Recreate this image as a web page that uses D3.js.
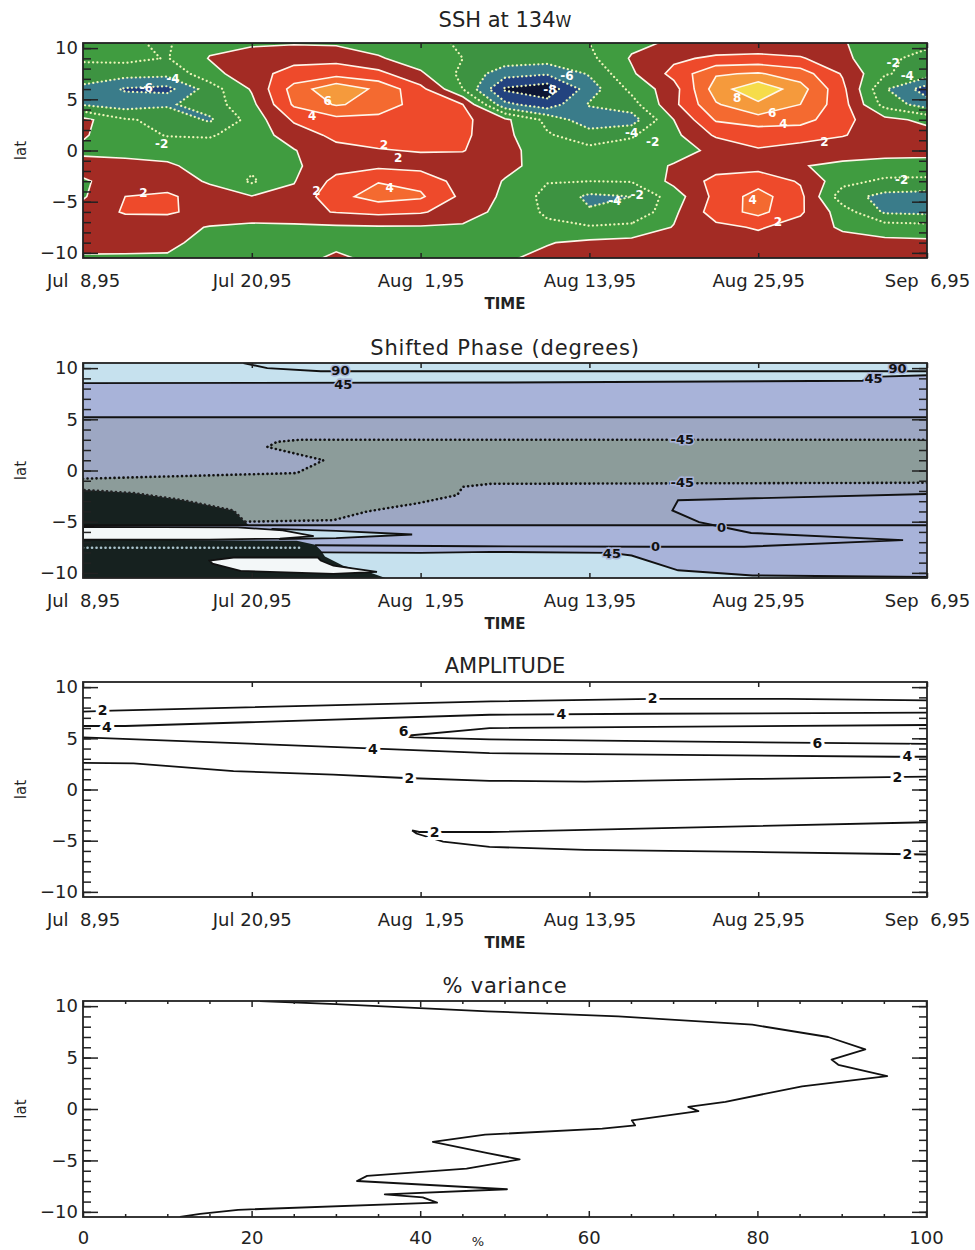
<!DOCTYPE html>
<html>
<head>
<meta charset="utf-8">
<script src="https://cdn.jsdelivr.net/npm/d3@7"></script>
<style>
body{margin:0;background:#fff}
svg text{font-family:"DejaVu Sans",sans-serif;fill:#222}
</style>
</head>
<body>
<svg id="chart" width="975" height="1250"></svg>
<script>
// ---- axis data
const timeTicks=[0,12,24,36,48,60];
const timeLabels=["Jul  8,95","Jul 20,95","Aug  1,95","Aug 13,95","Aug 25,95","Sep  6,95"];
const latTicks=[-10,-5,0,5,10];
const latMinor=[-10,-9,-8,-7,-6,-5,-4,-3,-2,-1,0,1,2,3,4,5,6,7,8,9,10];
const pctTicks=[0,20,40,60,80,100];
const pctMinor=[5,10,15,25,30,35,45,50,55,65,70,75,85,90,95];

// ---- SSH at 134W : grid (rows = lat, cols = day)
const sshDays=[0,3,6,9,12,15,18,21,24,27,30,33,36,39,42,45,48,51,54,57,60];
const sshLats=[10.5,9,7.5,6,4.5,3,1.5,0,-1.5,-3,-4.5,-6,-7.5,-9,-10.5];
const sshLevels=[-8,-6,-4,-2,0,2,4,6,8];
const sshColors=["#0d1634","#23437f","#3a7c8a","#3d9341","#409c40","#a32b24","#ee4a2b","#f46a30","#f59a3c","#f6dc4a"];
const sshGrid=[
[-1.5,-1.8,-2.2,-0.5,-0.3,-0.2,-0.3,-0.8,-1.5,-2.2,-2.5,-2.5,-2.0,-0.5,0.3,0.5,0.6,0.5,0.2,-1.5,-1.8],
[-1.8,-1.5,-2.1,0.1,0.9,1.5,1.4,0.2,-1.0,-2.0,-2.8,-3.0,-2.5,0.2,1.6,2.4,2.6,2.2,0.6,-1.8,-2.3],
[-2.6,-3.2,-3.4,-0.8,1.4,2.6,3.2,2.6,0.3,-2.5,-5.2,-5.8,-3.8,-0.3,2.6,5.8,6.2,5.0,1.8,-1.8,-3.0],
[-4.6,-6.2,-6.6,-3.0,0.2,4.8,7.6,5.5,2.6,-2.0,-8.3,-9.2,-5.0,-1.5,1.2,7.0,9.6,6.8,2.5,-3.8,-7.0],
[-4.2,-5.0,-4.3,-3.0,-0.5,4.3,6.2,5.3,3.0,2.0,-5.5,-7.2,-3.8,-2.8,1.5,5.8,7.6,6.0,2.8,-2.8,-5.0],
[0.6,-1.8,-2.5,-4.3,-1.2,2.3,3.4,3.3,2.8,2.5,0.4,-2.5,-5.4,-5.0,0.0,4.2,5.2,4.8,2.6,0.6,-0.5],
[0.2,-1.2,-2.1,-2.2,-1.0,0.9,2.5,2.7,2.5,2.4,0.5,-1.8,-3.0,-2.2,-0.5,2.3,2.5,2.5,2.1,1.2,0.8],
[-0.4,-0.5,-0.8,-1.0,-1.0,-0.1,1.4,1.9,2.1,2.1,0.5,-0.8,-1.5,-1.2,-0.5,0.3,1.9,1.5,0.9,0.6,0.5],
[0.7,0.5,0.3,-0.8,-1.6,-0.3,1.2,1.6,1.3,0.8,0.4,-0.6,-0.9,-0.6,0.1,1.2,1.3,0.1,-0.4,-0.6,-0.6],
[-0.2,0.8,0.9,-0.2,-2.3,-0.1,2.6,3.9,3.4,1.1,-0.1,-1.9,-2.0,-1.9,0.5,2.6,3.2,1.8,-1.3,-2.4,-2.5],
[-0.2,2.0,2.4,0.8,0.1,0.5,3.4,4.8,4.3,1.5,-0.4,-2.6,-4.4,-4.0,-1.0,2.6,4.8,2.5,-3.2,-4.6,-4.8],
[0.8,2.2,2.3,1.2,1.3,1.4,2.1,2.5,2.2,1.0,-0.7,-2.3,-3.8,-3.8,-0.4,3.0,4.6,2.3,-1.0,-4.3,-4.5],
[0.5,0.8,0.6,-0.1,-0.5,-0.4,-0.3,-0.2,-0.2,-0.3,-0.8,-1.6,-1.8,-1.4,0.1,1.5,2.2,1.2,-0.3,-1.0,-1.2],
[0.9,0.8,0.4,-0.6,-0.8,-0.7,-0.3,-0.5,-0.6,-0.4,-0.3,-0.1,0.4,0.6,0.8,1.0,1.2,1.0,0.8,0.5,0.4],
[-0.3,-0.3,-0.2,-0.4,-0.6,-0.4,0.2,-0.3,-0.5,-0.4,-0.2,0.4,0.7,0.8,0.9,1.0,1.0,0.9,0.1,0.5,0.5]
];
const sshLabels=[[4.5,6.1,"-6"],[6.4,7.0,"-4"],[5.6,0.7,"-2"],[4.3,-4.1,"2"],[17.4,4.9,"6"],[16.3,3.4,"4"],
  [21.4,0.6,"2"],[22.4,-0.75,"2"],[16.6,-3.9,"2"],[21.8,-3.6,"4"],[34.4,7.3,"-6"],[33.2,5.9,"-8"],
  [39,1.7,"-4"],[40.5,0.85,"-2"],[37.8,-4.95,"-4"],[39.4,-4.3,"-2"],[46.5,5.1,"8"],[49,3.7,"6"],
  [49.8,2.6,"4"],[52.7,0.85,"2"],[47.6,-4.8,"4"],[49.4,-7,"2"],[57.6,8.6,"-2"],[58.6,7.3,"-4"],[58.2,-2.9,"-2"]];

// ---- Shifted phase : regions and contour lines (day, lat)
const phTopCyan=[[0,10.5],[0,8.53],[30,8.6],[55.4,8.77],[56.7,9.17],[60,9.3],[60,10.5]];
const phMidBand=[[0,5.2],[60,5.2],[60,-5.35],[0,-5.35]];
const phUpperDots=[[0,-0.8],[15.2,-0.25],[17.1,1.0],[13.1,2.3],[13.8,2.8],[15.4,3.0],[60,3.0]];
const phLowerDots=[[60,-1.2],[29,-1.3],[27,-1.6],[26.6,-2.4],[23.8,-3.2],[20.2,-4.0],[17.8,-4.85],[11.5,-5.0]];
const phBlackEdge=[[11.5,-5.0],[10.7,-3.9],[7.1,-2.9],[3.6,-2.2],[0,-1.9]];
const phBlackTop=[[0,-1.9],[3.6,-2.2],[7.1,-2.9],[10.7,-3.9],[11.5,-5.0],[11.8,-5.35],[0,-5.35]];
const phWedge=[[60,-2.3],[42.3,-2.9],[41.9,-3.9],[43.8,-5.05],[45,-5.35],[60,-5.35]];
const phZeroLine=[[60,-2.3],[42.3,-2.9],[41.9,-3.9],[43.8,-5.05],[45.2,-5.45],[47.5,-6.1],[58.3,-6.8],[47,-7.45],[40.7,-7.45],[28,-7.4],[16.5,-7.3]];
const phCyanWedge=[[13.5,-5.7],[18,-5.9],[23.4,-6.25],[18,-6.6],[14,-6.7]];
const phWhite=[[0,-5.5],[11,-5.55],[14.2,-5.85],[16.4,-6.4],[14,-6.65],[9,-6.75],[0,-6.75]];
const phBottomCyan=[[16.9,-8.0],[24,-8.05],[29,-7.95],[37.5,-8.05],[39,-8.3],[42.3,-9.75],[47.6,-10.25],[60,-10.4],[60,-10.5],[16.9,-10.5]];
const phBottom45=[[16.9,-8.0],[24,-8.05],[29,-7.95],[37.5,-8.05],[39,-8.3],[42.3,-9.75],[47.6,-10.25],[60,-10.4]];
const phBlackLow=[[0,-6.75],[15.2,-6.85],[16.5,-7.25],[16.9,-7.8],[17.2,-8.4],[18.5,-9.3],[20.5,-10.0],[21.5,-10.5],[0,-10.5]];
const phWhiteLow=[[9.0,-8.8],[10.7,-8.5],[16.7,-8.5],[16.9,-8.8],[17.8,-9.3],[20.9,-9.9],[17.8,-10.1],[11.2,-9.8],[9.2,-9.1]];
const phLightDots=[[0,-7.55],[15.5,-7.55]];
const ph90=[[11.4,10.5],[13.1,10.0],[16.9,9.7],[57,9.7],[60,9.7]];
const ph45=[[0,8.53],[30,8.6],[55.4,8.77],[56.7,9.17],[60,9.3]];
const ph5=[[0,5.2],[60,5.2]];
const phM5=[[0,-5.35],[60,-5.35]];
const phLabels=[[18.3,9.75,"90"],[18.5,8.4,"45"],[56.2,8.95,"45"],[57.9,10.0,"90"],[42.6,3.0,"-45"],
  [42.6,-1.2,"-45"],[45.4,-5.55,"0"],[40.7,-7.45,"0"],[37.6,-8.1,"45"]];

// ---- Amplitude contour lines (day, lat)
const amp2North=[[0,7.6],[2.1,7.7],[29,8.6],[40.5,8.85],[50,8.85],[60,8.7]];
const amp4North=[[0,6.2],[3.0,6.2],[28.9,7.3],[39.8,7.4],[60,7.5]];
const amp6=[[60,6.3],[28.9,6.0],[22.6,5.2],[23.5,5.1],[28.9,4.9],[52.2,4.55],[60,4.45]];
const amp4South=[[0,5.1],[19.9,4.05],[28.9,3.55],[57.7,3.2],[60,3.2]];
const amp2Mid=[[0,2.6],[3.6,2.55],[10.7,1.8],[17.8,1.45],[22.5,1.15],[28.9,0.85],[35.7,0.77],[47.6,1.03],[57.2,1.2],[60,1.25]];
const amp2South=[[60,-3.2],[40.4,-3.8],[28.9,-4.15],[23.9,-4.15],[23.4,-4.0],[23.7,-4.3],[25.6,-5.1],[28.9,-5.6],[35.7,-5.9],[47.6,-6.1],[57.7,-6.3],[60,-6.35]];
const ampLabels=[[1.4,7.75,"2"],[40.5,8.9,"2"],[1.7,6.1,"4"],[34,7.4,"4"],[22.8,5.7,"6"],[52.2,4.55,"6"],
  [20.6,4.0,"4"],[58.6,3.25,"4"],[23.2,1.1,"2"],[57.9,1.2,"2"],[25,-4.15,"2"],[58.6,-6.3,"2"]];

// ---- % variance profile
const varLat=[10.5,10.2,9.5,9.0,8.2,7.0,5.8,4.8,4.3,3.2,2.2,0.7,0.2,-0.2,-1.1,-1.6,-1.9,-2.5,-3.2,-4.3,-4.9,-5.8,-6.5,-7.0,-7.8,-8.3,-8.6,-9.1,-9.8,-10.2,-10.5];
const varPct=[21,30,48,63.5,79.4,88.4,92.8,88.8,89.6,95.4,85.3,76.2,71.8,73,65.1,65.5,61.6,47.7,41.5,48,51.8,45.5,33.7,32.5,50.3,35.8,40.3,42,18.4,13.9,11.5];

// ---------------------------------------------------------------
const svg=d3.select("#chart");
const L=83,R=927;
const panels=[{t:43,b:258},{t:363,b:578},{t:682,b:897},{t:1001,b:1217}];
const x=d3.scaleLinear().domain([0,60]).range([L,R]);
const xp=d3.scaleLinear().domain([0,100]).range([L,R-1]);
const ys=panels.map(p=>d3.scaleLinear().domain([-10.5,10.5]).range([p.b,p.t]));
const fmtLat=d=>d<0?"\u2212"+(-d):String(d);
const TF=18;

function clip(i){
  const p=panels[i];
  svg.append("clipPath").attr("id","clip"+i).append("rect")
    .attr("x",L).attr("y",p.t).attr("width",R-L).attr("height",p.b-p.t);
  return svg.append("g").attr("clip-path",`url(#clip${i})`);
}

function styleAxis(sel,fs){
  sel.selectAll(".domain").remove();
  sel.selectAll(".tick line").attr("stroke","#222").attr("stroke-width",1.5);
  sel.selectAll("text").attr("font-size",fs).attr("font-family","DejaVu Sans, sans-serif").attr("fill","#222");
}

function latAxes(i){
  const y=ys[i];
  svg.append("g").attr("transform",`translate(${L},0)`)
    .call(d3.axisLeft(y).tickValues(latMinor).tickSize(-8).tickFormat("")).call(styleAxis,TF);
  svg.append("g").attr("transform",`translate(${L},0)`)
    .call(d3.axisLeft(y).tickValues(latTicks).tickSize(-15).tickPadding(5).tickFormat(fmtLat)).call(styleAxis,TF);
  svg.append("g").attr("transform",`translate(${R},0)`)
    .call(d3.axisRight(y).tickValues(latMinor).tickSize(-8).tickFormat("")).call(styleAxis,TF);
  svg.append("g").attr("transform",`translate(${R},0)`)
    .call(d3.axisRight(y).tickValues(latTicks).tickSize(-15).tickFormat("")).call(styleAxis,TF);
  const p=panels[i];
  svg.append("text").attr("transform",`translate(26,${(p.t+p.b)/2}) rotate(-90)`)
    .attr("text-anchor","middle").attr("font-size",15).text("lat");
}

function timeAxes(i){
  const p=panels[i];
  const gb=svg.append("g").attr("transform",`translate(0,${p.b})`)
    .call(d3.axisBottom(x).tickValues(timeTicks).tickSize(-5).tickFormat((d,k)=>timeLabels[k])).call(styleAxis,TF);
  gb.selectAll("text").attr("y",29).attr("dy",0).style("white-space","pre");
  svg.append("g").attr("transform",`translate(0,${p.t})`)
    .call(d3.axisTop(x).tickValues(timeTicks).tickSize(-5).tickFormat("")).call(styleAxis,TF);
  svg.append("text").attr("x",(L+R)/2).attr("y",p.b+51).attr("text-anchor","middle")
    .attr("font-size",15).attr("font-weight","bold").text("TIME");
}

function border(i){
  const p=panels[i];
  svg.append("rect").attr("x",L).attr("y",p.t).attr("width",R-L).attr("height",p.b-p.t)
    .attr("fill","none").attr("stroke","#222").attr("stroke-width",1.8);
}

function title(i,txt,dy){
  return svg.append("text").attr("x",(L+R)/2).attr("y",panels[i].t-dy)
    .attr("text-anchor","middle").attr("font-size",21).text(txt);
}

// ---------------- panel 1 : SSH filled contours
{
  const y=ys[0], g=clip(0);
  const n=sshDays.length, m=sshLats.length;
  const gx=d3.scaleLinear().domain([0.5,n-0.5]).range([sshDays[0],sshDays[n-1]]);
  const gy=d3.scaleLinear().domain([0.5,m-0.5]).range([sshLats[0],sshLats[m-1]]);
  const proj=d3.geoTransform({point(a,b){this.stream.point(x(gx(a)),y(gy(b)));}});
  const path=d3.geoPath(proj);
  const cs=d3.contours().size([n,m]).thresholds(sshLevels)(sshGrid.flat());
  g.append("rect").attr("x",L).attr("y",panels[0].t).attr("width",R-L).attr("height",panels[0].b-panels[0].t)
    .attr("fill",sshColors[0]);
  g.selectAll("path.fill").data(cs).join("path").attr("class","fill")
    .attr("d",path).attr("fill",(d,k)=>sshColors[k+1]);
  g.selectAll("path.line").data(cs).join("path").attr("class","line")
    .attr("d",path).attr("fill","none")
    .attr("stroke",d=>d.value<0?"#eef6b8":"#fff6ea")
    .attr("stroke-width",d=>d.value<0?2.2:1.6)
    .attr("stroke-linecap","round")
    .attr("stroke-dasharray",d=>d.value<0?"0.1,4.2":null);
  g.selectAll("text").data(sshLabels).join("text")
    .attr("x",d=>x(d[0])).attr("y",d=>y(d[1])).attr("dy","0.35em")
    .attr("text-anchor","middle").attr("font-size",12).attr("font-weight","bold")
    .style("fill","#fff").text(d=>d[2]);
  border(0); latAxes(0); timeAxes(0);
  const t=title(0,"",16);
  t.append("tspan").text("SSH at 134");
  t.append("tspan").attr("font-size",16).text("W");
}

// ---------------- panel 2 : shifted phase
{
  const y=ys[1], g=clip(1);
  const line=d3.line().x(d=>x(d[0])).y(d=>y(d[1]));
  const poly=pts=>line(pts)+"Z";
  g.append("rect").attr("x",L).attr("y",panels[1].t).attr("width",R-L).attr("height",panels[1].b-panels[1].t)
    .attr("fill","#a8b3d9");
  g.append("path").attr("d",poly(phTopCyan)).attr("fill","#c6e1ee");
  g.append("path").attr("d",poly(phMidBand)).attr("fill","#9da7c3");
  g.append("path").attr("d",poly(phUpperDots.concat(phLowerDots,phBlackEdge))).attr("fill","#8c9c9a");
  g.append("path").attr("d",poly(phBlackTop)).attr("fill","#16211f");
  g.append("path").attr("d",poly(phWedge)).attr("fill","#a8b3d9");
  g.append("path").attr("d",poly(phBottomCyan)).attr("fill","#c6e1ee");
  g.append("path").attr("d",poly(phBlackLow)).attr("fill","#16211f");
  g.append("path").attr("d",poly(phWhiteLow)).attr("fill","#f3f7f8").attr("stroke","#111").attr("stroke-width",1.8);
  g.append("path").attr("d",poly(phCyanWedge)).attr("fill","#c6e1ee").attr("stroke","#111").attr("stroke-width",1.8);
  g.append("path").attr("d",poly(phWhite)).attr("fill","#f3f7f8").attr("stroke","#111").attr("stroke-width",1.8);
  [ph90,ph45,ph5,phM5,phZeroLine,phBottom45].forEach(pts=>{
    g.append("path").attr("d",line(pts)).attr("fill","none").attr("stroke","#111").attr("stroke-width",1.9);
  });
  [[phUpperDots,"#111"],[phLowerDots,"#111"],[phBlackEdge,"#222"],[phLightDots,"#a9c3cc"]].forEach(([pts,c])=>{
    g.append("path").attr("d",line(pts)).attr("fill","none").attr("stroke",c).attr("stroke-width",2.6)
      .attr("stroke-linecap","round").attr("stroke-dasharray","0.1,4.4");
  });
  g.selectAll("text").data(phLabels).join("text")
    .attr("x",d=>x(d[0])).attr("y",d=>y(d[1])).attr("dy","0.35em")
    .attr("text-anchor","middle").attr("font-size",13).attr("font-weight","bold")
    .attr("stroke","#a8b3d9").attr("stroke-width",3).attr("paint-order","stroke")
    .style("fill","#111").text(d=>d[2]);
  border(1); latAxes(1); timeAxes(1);
  title(1,"Shifted Phase (degrees)",8).attr("letter-spacing",0.8);
}

// ---------------- panel 3 : amplitude
{
  const y=ys[2], g=clip(2);
  const line=d3.line().x(d=>x(d[0])).y(d=>y(d[1]));
  [amp2North,amp4North,amp6,amp4South,amp2Mid,amp2South].forEach(pts=>{
    g.append("path").attr("d",line(pts)).attr("fill","none").attr("stroke","#111").attr("stroke-width",1.8);
  });
  g.selectAll("text").data(ampLabels).join("text")
    .attr("x",d=>x(d[0])).attr("y",d=>y(d[1])).attr("dy","0.36em")
    .attr("text-anchor","middle").attr("font-size",14).attr("font-weight","bold")
    .attr("stroke","#fff").attr("stroke-width",6).attr("paint-order","stroke")
    .style("fill","#111").text(d=>d[2]);
  border(2); latAxes(2); timeAxes(2);
  title(2,"AMPLITUDE",9);
}

// ---------------- panel 4 : % variance
{
  const y=ys[3], g=clip(3), p=panels[3];
  const line=d3.line().x((d,k)=>xp(varPct[k])).y(d=>y(d));
  g.append("path").attr("d",line(varLat)).attr("fill","none").attr("stroke","#111")
    .attr("stroke-width",1.8).attr("stroke-linejoin","round");
  border(3); latAxes(3);
  const gb=svg.append("g").attr("transform",`translate(0,${p.b})`)
    .call(d3.axisBottom(xp).tickValues(pctTicks).tickSize(-6).tickFormat(d=>d)).call(styleAxis,TF);
  gb.selectAll("text").attr("y",27).attr("dy",0);
  svg.append("g").attr("transform",`translate(0,${p.b})`)
    .call(d3.axisBottom(xp).tickValues(pctMinor).tickSize(-3).tickFormat("")).call(styleAxis,TF);
  svg.append("g").attr("transform",`translate(0,${p.t})`)
    .call(d3.axisTop(xp).tickValues(pctTicks).tickSize(-6).tickFormat("")).call(styleAxis,TF);
  svg.append("g").attr("transform",`translate(0,${p.t})`)
    .call(d3.axisTop(xp).tickValues(pctMinor).tickSize(-3).tickFormat("")).call(styleAxis,TF);
  svg.append("text").attr("x",478).attr("y",p.b+29).attr("text-anchor","middle")
    .attr("font-size",13).text("%");
  title(3,"% variance",8).attr("letter-spacing",0.8);
}
</script>
</body>
</html>
